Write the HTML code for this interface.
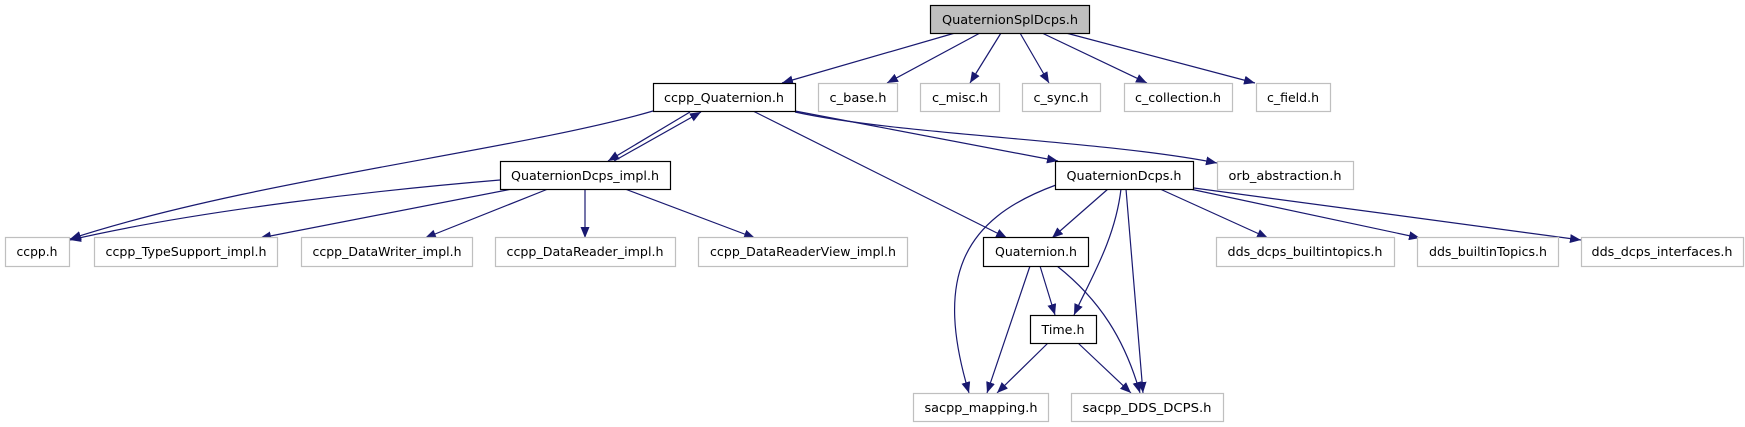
<!DOCTYPE html>
<html><head><meta charset="utf-8"><style>
html,body{margin:0;padding:0;background:#fff;}
svg{display:block;}
text{font-family:"DejaVu Sans","Liberation Sans",sans-serif;font-size:12.5px;fill:#000;}
</style></head><body>
<svg width="1745" height="427" viewBox="0 0 1745 427" xmlns="http://www.w3.org/2000/svg">
<defs>
<marker id="a" markerWidth="12" markerHeight="10" refX="11" refY="4.5" orient="auto" markerUnits="userSpaceOnUse">
<path d="M0,0 L11,4.5 L0,9 z" fill="#191970"/>
</marker>
</defs>
<g fill="none" stroke="#191970" stroke-width="1.2" marker-end="url(#a)">
<path d="M955,33 L782,83"/>
<path d="M980,33 L887,83"/>
<path d="M1001,33 L970,83"/>
<path d="M1020,33 L1049,83"/>
<path d="M1042,33 L1147,83"/>
<path d="M1066,33 L1255,83"/>
<path d="M653,111 C520,150 250,180 70,239"/>
<path d="M690,112 L608,161"/>
<path d="M614,161 L701,112"/>
<path d="M753,111 L1007,238"/>
<path d="M795,111 L1058,161"/>
<path d="M795,112 C900,135 1100,140 1217,163"/>
<path d="M500,180 C380,190 200,210 70,240"/>
<path d="M512,189 L260,238"/>
<path d="M548,189 L425,238"/>
<path d="M585,189 L585,238"/>
<path d="M625,189 L755,238"/>
<path d="M1108,189 L1052,238"/>
<path d="M1056,185 C960,220 935,280 969,393"/>
<path d="M1121,189 C1115,240 1090,280 1074,315"/>
<path d="M1126,189 L1143,393"/>
<path d="M1160,189 L1268,238"/>
<path d="M1190,189 L1420,238"/>
<path d="M1194,188 L1581,240"/>
<path d="M1040,266 L1055,315"/>
<path d="M1030,266 L987,393"/>
<path d="M1057,266 C1100,300 1125,340 1140,393"/>
<path d="M1048,343 L997,393"/>
<path d="M1078,343 L1131,393"/>
</g>
<g stroke-width="1.2">
<rect x="930.5" y="5.5" width="159" height="28" fill="#bfbfbf" stroke="#000"/>
<rect x="653.5" y="83.5" width="142" height="28" fill="#fff" stroke="#000"/>
<rect x="818.5" y="83.5" width="79" height="28" fill="#fff" stroke="#bfbfbf"/>
<rect x="920.5" y="83.5" width="79" height="28" fill="#fff" stroke="#bfbfbf"/>
<rect x="1022.5" y="83.5" width="78" height="28" fill="#fff" stroke="#bfbfbf"/>
<rect x="1124.5" y="83.5" width="108" height="28" fill="#fff" stroke="#bfbfbf"/>
<rect x="1256.5" y="83.5" width="74" height="28" fill="#fff" stroke="#bfbfbf"/>
<rect x="500.5" y="161.5" width="170" height="28" fill="#fff" stroke="#000"/>
<rect x="1055.5" y="161.5" width="138" height="28" fill="#fff" stroke="#000"/>
<rect x="1217.5" y="161.5" width="136" height="28" fill="#fff" stroke="#bfbfbf"/>
<rect x="5.5" y="237.5" width="64" height="29" fill="#fff" stroke="#bfbfbf"/>
<rect x="94.5" y="237.5" width="183" height="29" fill="#fff" stroke="#bfbfbf"/>
<rect x="301.5" y="237.5" width="171" height="29" fill="#fff" stroke="#bfbfbf"/>
<rect x="495.5" y="237.5" width="180" height="29" fill="#fff" stroke="#bfbfbf"/>
<rect x="698.5" y="237.5" width="209" height="29" fill="#fff" stroke="#bfbfbf"/>
<rect x="983.5" y="237.5" width="105" height="29" fill="#fff" stroke="#000"/>
<rect x="1216.5" y="237.5" width="178" height="29" fill="#fff" stroke="#bfbfbf"/>
<rect x="1417.5" y="237.5" width="141" height="29" fill="#fff" stroke="#bfbfbf"/>
<rect x="1581.5" y="237.5" width="162" height="29" fill="#fff" stroke="#bfbfbf"/>
<rect x="1030.5" y="315.5" width="66" height="28" fill="#fff" stroke="#000"/>
<rect x="913.5" y="393.5" width="135" height="28" fill="#fff" stroke="#bfbfbf"/>
<rect x="1071.5" y="393.5" width="152" height="28" fill="#fff" stroke="#bfbfbf"/>
</g>
<g text-anchor="middle">
<text x="1010" y="24" textLength="136" lengthAdjust="spacingAndGlyphs">QuaternionSplDcps.h</text>
<text x="724" y="102" textLength="120" lengthAdjust="spacingAndGlyphs">ccpp_Quaternion.h</text>
<text x="858" y="102" textLength="57" lengthAdjust="spacingAndGlyphs">c_base.h</text>
<text x="960" y="102" textLength="56" lengthAdjust="spacingAndGlyphs">c_misc.h</text>
<text x="1061" y="102" textLength="55" lengthAdjust="spacingAndGlyphs">c_sync.h</text>
<text x="1178" y="102" textLength="86" lengthAdjust="spacingAndGlyphs">c_collection.h</text>
<text x="1293" y="102" textLength="52" lengthAdjust="spacingAndGlyphs">c_field.h</text>
<text x="585" y="180" textLength="148" lengthAdjust="spacingAndGlyphs">QuaternionDcps_impl.h</text>
<text x="1124" y="180" textLength="115" lengthAdjust="spacingAndGlyphs">QuaternionDcps.h</text>
<text x="1285" y="180" textLength="113" lengthAdjust="spacingAndGlyphs">orb_abstraction.h</text>
<text x="37" y="256" textLength="41" lengthAdjust="spacingAndGlyphs">ccpp.h</text>
<text x="186" y="256" textLength="161" lengthAdjust="spacingAndGlyphs">ccpp_TypeSupport_impl.h</text>
<text x="387" y="256" textLength="149" lengthAdjust="spacingAndGlyphs">ccpp_DataWriter_impl.h</text>
<text x="585" y="256" textLength="157" lengthAdjust="spacingAndGlyphs">ccpp_DataReader_impl.h</text>
<text x="803" y="256" textLength="186" lengthAdjust="spacingAndGlyphs">ccpp_DataReaderView_impl.h</text>
<text x="1036" y="256" textLength="82" lengthAdjust="spacingAndGlyphs">Quaternion.h</text>
<text x="1305" y="256" textLength="155" lengthAdjust="spacingAndGlyphs">dds_dcps_builtintopics.h</text>
<text x="1488" y="256" textLength="118" lengthAdjust="spacingAndGlyphs">dds_builtinTopics.h</text>
<text x="1662" y="256" textLength="141" lengthAdjust="spacingAndGlyphs">dds_dcps_interfaces.h</text>
<text x="1063" y="334" textLength="43" lengthAdjust="spacingAndGlyphs">Time.h</text>
<text x="981" y="412" textLength="113" lengthAdjust="spacingAndGlyphs">sacpp_mapping.h</text>
<text x="1147" y="412" textLength="129" lengthAdjust="spacingAndGlyphs">sacpp_DDS_DCPS.h</text>
</g>
</svg>
</body></html>
